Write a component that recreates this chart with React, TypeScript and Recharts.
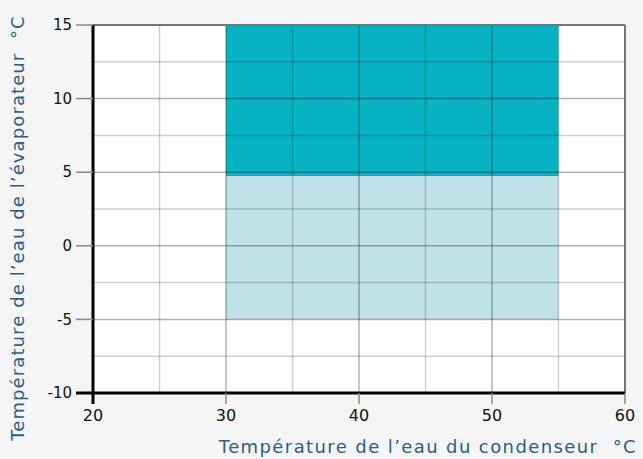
import React from 'react';
import { ComposedChart, XAxis, YAxis, ReferenceArea, ReferenceLine, Scatter, CartesianGrid } from 'recharts';

// operating envelope (°C)
const condenserRange = [30, 55];
const evapHighRange = [4.75, 15];
const evapLowRange = [-5, 4.75];

const xTicks = [20, 30, 40, 50, 60];
const yTicks = [-10, -5, 0, 5, 10, 15];
const xMajorGrid = [30, 40, 50];
const xMinorGrid = [25, 35, 45, 55];
const yMajorGrid = [-5, 0, 5, 10];
const yMinorGrid = [-7.5, -2.5, 2.5, 7.5, 12.5];

// corner points of the envelope, used as an invisible series so the axes have data
const corners = [
  { x: condenserRange[0], y: evapLowRange[0] },
  { x: condenserRange[1], y: evapHighRange[1] },
];

const FONT = '"DejaVu Sans", sans-serif';
const TITLE_COLOR = '#2c5f80';

const YTick = (props: any) => {
  const { x, y, payload } = props;
  const first = payload.value === -10;
  return (
    <g>
      <line
        x1={x + 3}
        x2={x + 20}
        y1={y}
        y2={y}
        stroke={first ? '#000' : '#888'}
        strokeWidth={first ? 3 : 1.5}
      />
      <text x={x - 1} y={y} dy="0.35em" textAnchor="end" fontSize={15} fill="#111" fontFamily={FONT}>
        {payload.value}
      </text>
    </g>
  );
};

const XTick = (props: any) => {
  const { x, y, payload } = props;
  const first = payload.value === 20;
  return (
    <g>
      <line
        x1={x}
        x2={x}
        y1={y - 14}
        y2={y - 3}
        stroke={first ? '#000' : '#888'}
        strokeWidth={first ? 3 : 1.5}
      />
      <text x={x} y={y} dy="0.85em" textAnchor="middle" fontSize={16} fill="#111" fontFamily={FONT}>
        {payload.value}
      </text>
    </g>
  );
};

export default function App() {
  return (
    <div style={{ position: 'fixed', left: 0, top: 0, width: 643, height: 459, background: '#f5f5f5' }}>
      <ComposedChart
        width={643}
        height={459}
        data={corners}
        margin={{ top: 25, right: 18, bottom: 36, left: 13 }}
      >
        <CartesianGrid horizontal={false} vertical={false} fill="#fff" />
        <XAxis
          type="number"
          dataKey="x"
          domain={[20, 60]}
          ticks={xTicks}
          axisLine={{ stroke: '#000', strokeWidth: 3 }}
          tickLine={false}
          tickSize={10}
          tickMargin={4}
          height={30}
          tick={<XTick />}
          label={{
            content: () => (
              <text
                x={637}
                y={453}
                textAnchor="end"
                fontSize={18}
                letterSpacing={1.4}
                fill={TITLE_COLOR}
                fontFamily={FONT}
              >
                Température de l’eau du condenseur{'\u00a0\u00a0'}°C
              </text>
            ),
          }}
        />
        <YAxis
          type="number"
          dataKey="y"
          domain={[-10, 15]}
          ticks={yTicks}
          axisLine={{ stroke: '#000', strokeWidth: 3 }}
          tickLine={false}
          tickSize={16}
          tickMargin={4}
          width={80}
          tick={<YTick />}
          label={{
            content: () => (
              <text
                x={17}
                y={228}
                transform="rotate(-90 17 228)"
                textAnchor="middle"
                dominantBaseline="central"
                fontSize={18}
                letterSpacing={1.1}
                fill={TITLE_COLOR}
                fontFamily={FONT}
              >
                Température de l’eau de l’évaporateur{'\u00a0\u00a0'}°C
              </text>
            ),
          }}
        />
        <ReferenceArea
          x1={condenserRange[0]}
          x2={condenserRange[1]}
          y1={evapHighRange[0]}
          y2={evapHighRange[1]}
          fill="#07b3c2"
          fillOpacity={1}
          stroke="none"
        />
        <ReferenceArea
          x1={condenserRange[0]}
          x2={condenserRange[1]}
          y1={evapLowRange[0]}
          y2={evapLowRange[1]}
          fill="#bee2e8"
          fillOpacity={1}
          stroke="none"
        />
        {xMinorGrid.map((v) => (
          <ReferenceLine key={'xm' + v} x={v} stroke="rgba(0,0,0,0.18)" strokeWidth={1.5} />
        ))}
        {xMajorGrid.map((v) => (
          <ReferenceLine key={'xM' + v} x={v} stroke="rgba(0,0,0,0.3)" strokeWidth={1.5} />
        ))}
        {yMinorGrid.map((v) => (
          <ReferenceLine key={'ym' + v} y={v} stroke="rgba(0,0,0,0.18)" strokeWidth={1.5} />
        ))}
        {yMajorGrid.map((v) => (
          <ReferenceLine key={'yM' + v} y={v} stroke="rgba(0,0,0,0.3)" strokeWidth={1.5} />
        ))}
        <ReferenceLine y={15} stroke="#777" strokeWidth={2} />
        <ReferenceLine x={60} stroke="#777" strokeWidth={2} />
        <Scatter dataKey="y" fill="none" shape={() => null} isAnimationActive={false} />
      </ComposedChart>
    </div>
  );
}
